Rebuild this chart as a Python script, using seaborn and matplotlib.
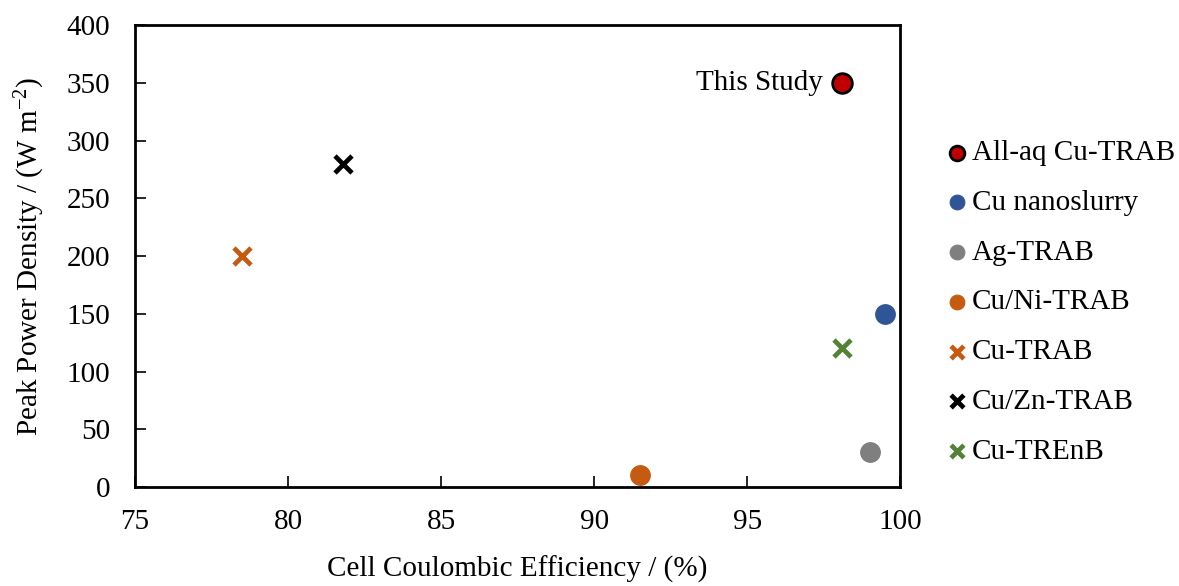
import matplotlib
matplotlib.use("Agg")
import matplotlib.pyplot as plt
import seaborn as sns
import pandas as pd

names = ["All-aq Cu-TRAB", "Cu nanoslurry", "Ag-TRAB", "Cu/Ni-TRAB", "Cu-TRAB", "Cu/Zn-TRAB", "Cu-TREnB"]
efficiency = [98.1, 99.5, 99.0, 91.5, 78.5, 81.8, 98.1]
power = [350, 150, 30, 10, 200, 280, 120]
markers = ["o", "o", "o", "o", "x", "x", "x"]
colors = ["#C00000", "#2F5597", "#7F7F7F", "#C55A11", "#C55A11", "#000000", "#548235"]

sns.set_theme(style="white")
plt.rcParams["font.family"] = ["Liberation Serif", "DejaVu Serif"]
plt.rcParams["mathtext.fontset"] = "custom"
plt.rcParams["mathtext.rm"] = "Liberation Serif"
plt.rcParams["mathtext.it"] = "Liberation Serif:italic"
plt.rcParams.update({
    "text.color": "black", "axes.labelcolor": "black",
    "xtick.color": "black", "ytick.color": "black",
    "xtick.bottom": True, "ytick.left": True,
    "xtick.direction": "in", "ytick.direction": "in",
    "xtick.major.size": 8, "ytick.major.size": 8,
    "xtick.major.width": 1.2, "ytick.major.width": 1.2,
})

df = pd.DataFrame({"name": names, "eff": efficiency, "pwr": power})

fig = plt.figure(figsize=(11.79, 5.86), dpi=100)
ax = fig.add_axes([0.1145, 0.169, 0.649, 0.788])

for n, m, c in zip(names, markers, colors):
    sub = df[df["name"] == n]
    if m == "o":
        ec = "black" if n == "All-aq Cu-TRAB" else c
        lw = 2.0 if n == "All-aq Cu-TRAB" else 0.8
        sns.scatterplot(data=sub, x="eff", y="pwr", ax=ax, marker="o", s=200,
                        color=c, edgecolor=ec, linewidth=lw, label=n, zorder=3)
    else:
        ax.scatter(sub["eff"], sub["pwr"], marker="x", s=150, color=c,
                   linewidths=3.4, label=n, zorder=3)

ax.annotate("This Study", xy=(efficiency[0], power[0]), xytext=(-14, 0),
            textcoords="offset points", ha="right", va="center", fontsize=21,
            color="black")

ax.set_xlim(75, 100)
ax.set_ylim(0, 400)
ax.set_xticks([75, 80, 85, 90, 95, 100])
ax.set_yticks(range(0, 401, 50))
ax.tick_params(axis="both", which="major", direction="in", length=8, width=1.2,
               labelsize=21, colors="black", bottom=True, left=True,
               top=False, right=False)
ax.tick_params(axis="x", pad=16)
ax.tick_params(axis="y", pad=18)
for s in ax.spines.values():
    s.set_color("black")
    s.set_linewidth(2)

ax.set_xlabel("Cell Coulombic Efficiency / (%)", fontsize=21, labelpad=15)
ax.set_ylabel("Peak Power Density / (W m$^{\\mathregular{-2}}$)", fontsize=21, labelpad=14)

leg = ax.legend(loc="center left", bbox_to_anchor=(1.04, 0.40), frameon=False,
                fontsize=21, handletextpad=0.0, labelspacing=0.8, markerscale=0.75,
                handlelength=1.0, borderaxespad=0)
for t in leg.get_texts():
    t.set_color("black")

fig.savefig("out.png", dpi=100)
